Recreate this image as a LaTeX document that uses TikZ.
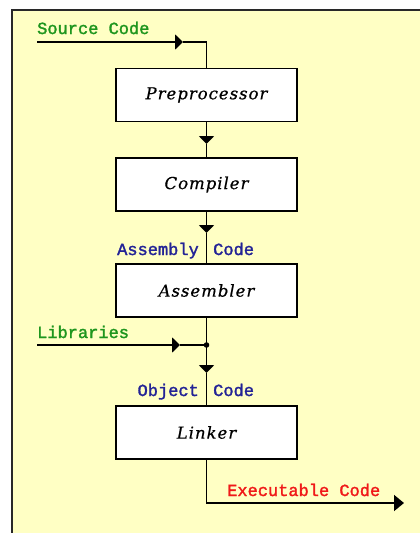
\documentclass[tikz,border=0pt]{standalone}
\usepackage{fontspec}
\setmainfont{DejaVu Serif}
\newfontfamily\labelfont{Liberation Mono}[FakeBold=1.8]
\newfontfamily\boxfont{DejaVu Serif}[LetterSpace=6, FakeBold=0.6]
\usetikzlibrary{arrows.meta}

\definecolor{paper}{RGB}{255,255,196}
\definecolor{frame}{RGB}{40,40,40}
\definecolor{lblgreen}{RGB}{30,150,30}
\definecolor{lblblue}{RGB}{35,35,150}
\definecolor{lblred}{RGB}{240,25,25}

\tikzset{
  stage/.style={draw=black, line width=1.8pt, fill=white, minimum width=181pt,
    minimum height=53pt, inner sep=0pt,
    font=\boxfont\itshape\fontsize{16.5}{16.5}\selectfont},
  wire/.style={line width=1.8pt, black},
  flow/.style={wire, -{Triangle[length=8pt,width=15pt]}},
  outflow/.style={wire, -{Triangle[length=10pt,width=16pt]}},
  tag/.style={inner sep=0pt, font=\labelfont\fontsize{17}{17}\selectfont},
}

\begin{document}
\begin{tikzpicture}[x=1pt, y=-1pt]
  \useasboundingbox (0,0) rectangle (420,533);
  \clip (0,0) rectangle (420,533);

  % panel
  \draw[frame, line width=2pt, fill=paper] (12,10) rectangle (440,560);

  % processing stages
  \node[stage] (pre)  at (206.5, 95)   {Preprocessor};
  \node[stage] (comp) at (206.5, 184.5) {Compiler};
  \node[stage] (asm)  at (206.5, 290.5) {Assembler};
  \node[stage] (link) at (206.5, 432.5) {Linker};

  % inputs and outputs
  \coordinate (srcin) at (37,42);
  \coordinate (srctip) at (183,42);
  \coordinate (srccorner) at (pre.north |- srcin);
  \coordinate (libin) at (37,345);
  \coordinate (libtip) at (180,345);
  \coordinate (join) at (pre.north |- libin);
  \coordinate (tipA) at (206.5,144);
  \coordinate (tipB) at (206.5,233);
  \coordinate (tipC) at (206.5,373);
  \coordinate (outcorner) at (206.5,503);
  \coordinate (out) at (404,503);

  % connectors
  \draw[flow] (srcin) -- (srctip);
  \draw[wire] (srctip) -- (srccorner) -- (pre.north);

  \draw[flow] (pre.south) -- (tipA);
  \draw[wire] (tipA) -- (comp.north);

  \draw[flow] (comp.south) -- (tipB);
  \draw[wire] (tipB) -- (asm.north);

  \draw[flow] (libin) -- (libtip);
  \draw[wire] (libtip) -- (join);
  \draw[wire] (asm.south) -- (join);
  \draw[flow] (join) -- (tipC);
  \draw[wire] (tipC) -- (link.north);
  \fill (join) circle (2.8pt);

  \draw[outflow] (link.south) -- (outcorner) -- (out);

  % labels
  \node[tag, lblgreen, anchor=base west] (lsrc) at (37,34) {Source Code};
  \node[tag, lblgreen, anchor=base west] (llib) at (37,338) {Libraries};
  \node[tag, lblblue, anchor=base east] (lasm1) at (199,255) {Assembly};
  \node[tag, lblblue, anchor=base west] (lasm2) at (213,255) {Code};
  \node[tag, lblblue, anchor=base east] (lobj1) at (199,396) {Object};
  \node[tag, lblblue, anchor=base west] (lobj2) at (213,396) {Code};
  \node[tag, lblred, anchor=base west] (lexe) at (227,496) {Executable Code};
\end{tikzpicture}
\end{document}
